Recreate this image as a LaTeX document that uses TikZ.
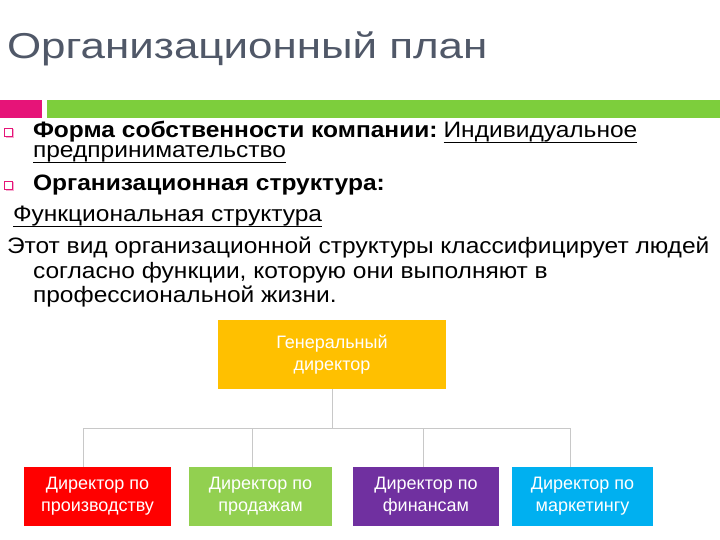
\documentclass[tikz,border=0pt]{standalone}
\usepackage{fontspec}
\setmainfont{Liberation Sans}[FakeStretch=1.10]
\newfontfamily\titlefont{Liberation Sans}[FakeStretch=1.22]
\newfontfamily\boxfont{Liberation Sans}
\usepackage{tikz}
\usetikzlibrary{positioning}

\definecolor{titlegray}{RGB}{80,88,104}
\definecolor{barpink}{RGB}{230,20,120}
\definecolor{bargreen}{RGB}{125,206,60}
\definecolor{ceoyellow}{RGB}{255,192,0}
\definecolor{prodred}{RGB}{255,0,0}
\definecolor{salesgreen}{RGB}{146,208,80}
\definecolor{finpurple}{RGB}{112,48,160}
\definecolor{mktblue}{RGB}{0,176,240}
\definecolor{wiregray}{RGB}{200,200,200}

\begin{document}
\begin{tikzpicture}[x=1pt,y=-1pt,
    every node/.style={inner sep=0pt,outer sep=0pt},
    txt/.style={anchor=base west,font=\fontsize{22.3}{24}\selectfont},
    uline/.style={line width=1.1pt},
    box/.style={text=white,align=center,minimum height=59pt,
      font=\boxfont\fontsize{18}{22}\selectfont},
    wire/.style={draw=wiregray,line width=0.9pt},
    bulletbox/.style={draw=barpink,fill=white,line width=1.2pt,minimum size=8.5pt}]
  \useasboundingbox (0,0) rectangle (720,540);

  % title and bars
  \node[anchor=base west,text=titlegray,font=\titlefont\fontsize{36}{40}\selectfont]
    (title) at (7,58.5) {Организационный план};
  \fill[barpink] (0,100) rectangle (42,118);
  \fill[bargreen] (47,100) rectangle (720,118);

  % text
  \fill[barpink!35] (5.5,129) rectangle (14,138.5);
  \node[bulletbox] (b1) at (8.5,132.5) {};
  \node[txt] (own) at (33,138) {\textbf{Форма собственности компании:}};
  \node[txt] (ownval) at ([xshift=6pt]own.base east) {Индивидуальное};
  \node[txt] (own2) at (33,158) {предпринимательство};
  \fill[barpink!35] (5.5,182) rectangle (14,191.5);
  \node[bulletbox] (b2) at (8.5,185.5) {};
  \node[txt] (struct) at (33,191) {\textbf{Организационная структура:}};
  \node[txt] (func) at (13,222) {Функциональная структура};
  \node[txt] (desc) at (7,254)
    {Этот вид организационной структуры классифицирует людей};
  \node[txt] (desc2) at (33,278) {согласно функции, которую они выполняют в};
  \node[txt] (desc3) at (33,302) {профессиональной жизни.};
  \foreach \n in {ownval,own2,func}
    \draw[uline] ([yshift=-4.5pt]\n.base west) -- ([yshift=-4.5pt]\n.base east);

  % chart
  \node[box,fill=ceoyellow,minimum width=228pt,minimum height=69pt]
    (ceo) at (332,354.5) {Генеральный\\директор};
  \node[box,fill=prodred,minimum width=147pt]
    (prod) at (97.5,496.5) {Директор по\\производству};
  \node[box,fill=salesgreen,minimum width=143pt,right=18pt of prod]
    (sales) {Директор по\\продажам};
  \node[box,fill=finpurple,minimum width=146pt,right=21pt of sales]
    (fin) {Директор по\\финансам};
  \node[box,fill=mktblue,minimum width=141pt,right=13pt of fin]
    (mkt) {Директор по\\маркетингу};

  \coordinate (j1) at (83,428);
  \coordinate (j2) at (252,428);
  \coordinate (j3) at (423,428);
  \coordinate (j4) at (570,428);
  \draw[wire] (ceo.south) -- (ceo.south |- j1);
  \draw[wire] (j1) -- (j4);
  \draw[wire] (j1) -- (j1 |- prod.north);
  \draw[wire] (j2) -- (j2 |- sales.north);
  \draw[wire] (j3) -- (j3 |- fin.north);
  \draw[wire] (j4) -- (j4 |- mkt.north);
\end{tikzpicture}
\end{document}
